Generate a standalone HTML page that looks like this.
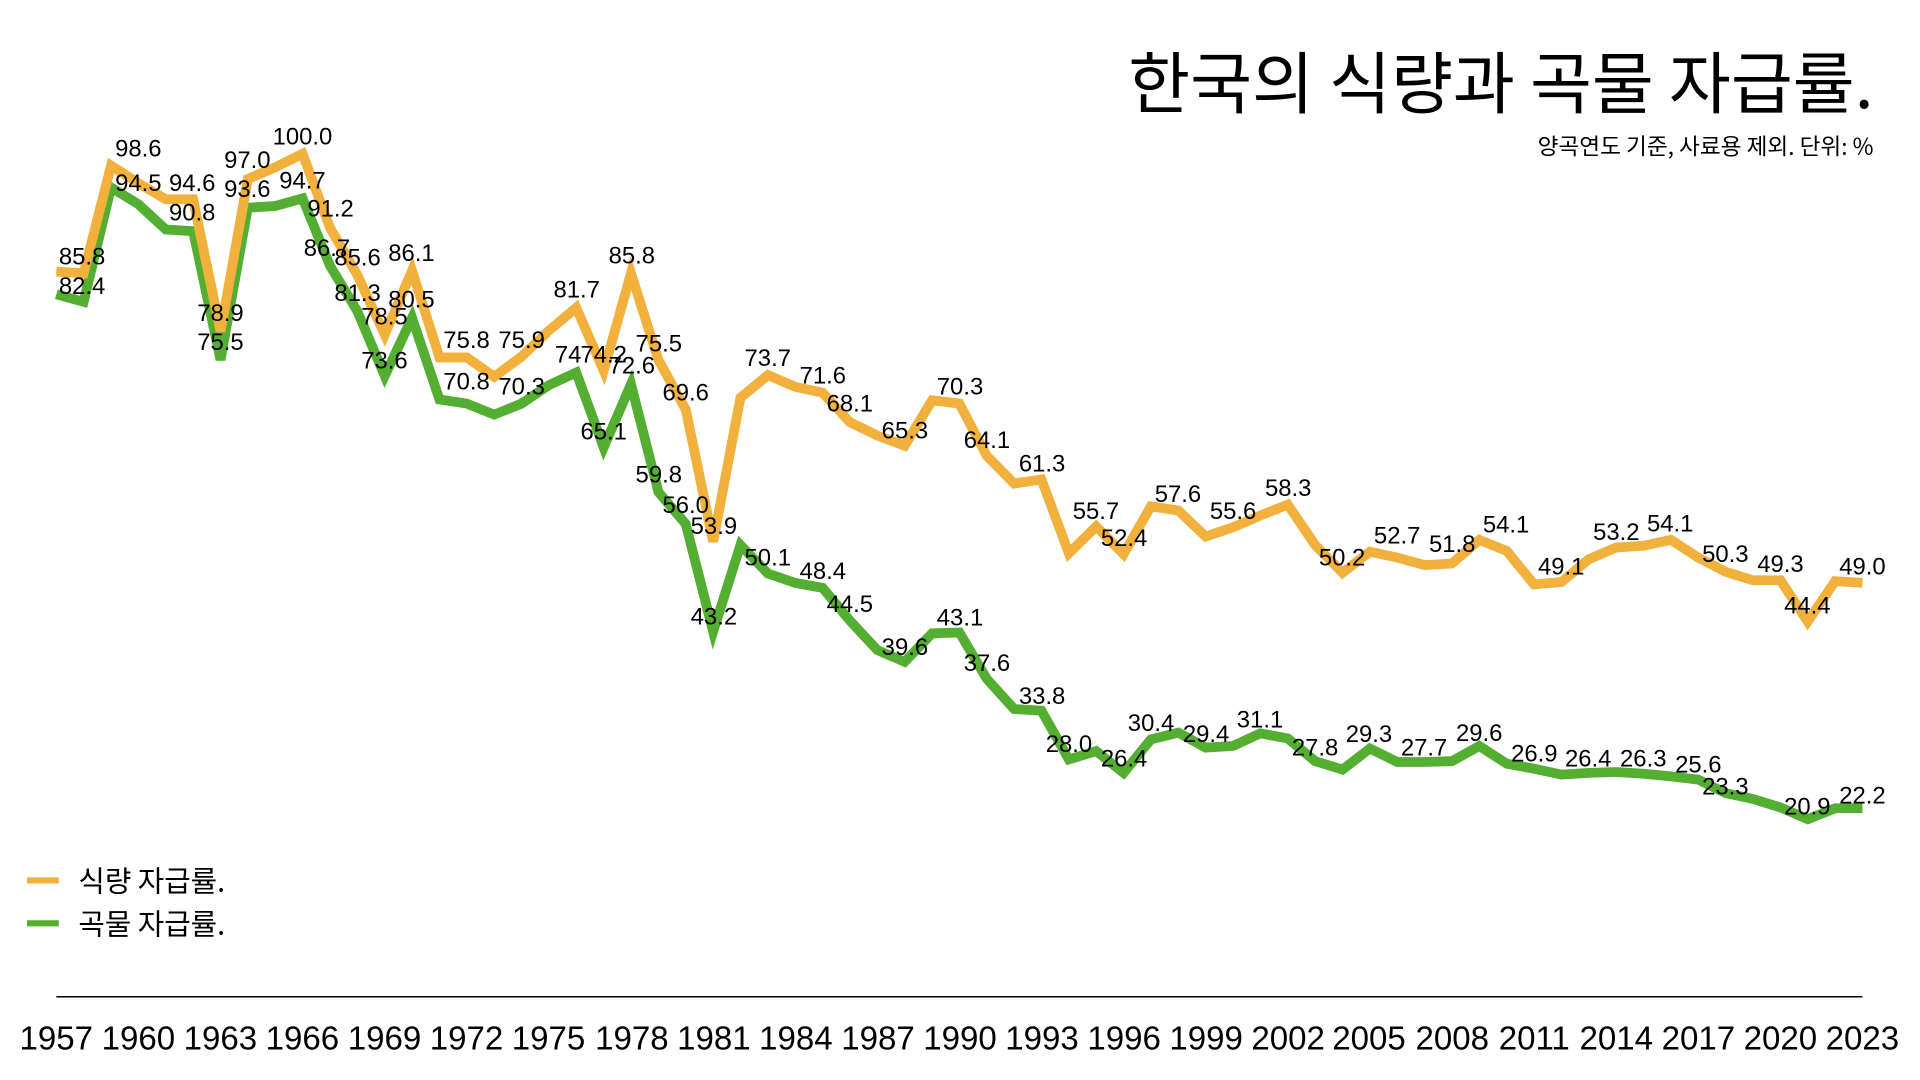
<!DOCTYPE html>
<html><head><meta charset="utf-8"><style>
html,body{margin:0;padding:0;background:#fff;}
svg{display:block;}
text{font-family:"Liberation Sans","Noto Sans CJK KR",sans-serif;fill:#000;}
.l{font-size:19.5px;text-anchor:middle;}
.y{font-size:27px;text-anchor:middle;}
</style></head><body>
<svg id="s" width="1920" height="1080" viewBox="0 0 1568 882" preserveAspectRatio="none">
<text x="1530" y="88" style="font-size:55px;font-weight:400;text-anchor:end;font-family:'Noto Sans CJK KR',sans-serif">한국의 식량과 곡물 자급률.</text>
<text x="1530" y="126" style="font-size:18.5px;text-anchor:end;font-family:'Noto Sans CJK KR',sans-serif">양곡연도 기준, 사료용 제외. 단위: %</text>
<g id="lines"></g>
<line x1="22" y1="719" x2="48" y2="719" stroke="#F2B13C" stroke-width="5"/>
<line x1="22" y1="754" x2="48" y2="754" stroke="#54AE32" stroke-width="5"/>
<text x="64" y="728" style="font-size:23.5px;font-family:'Noto Sans CJK KR',sans-serif">식량 자급률.</text>
<text x="64" y="763" style="font-size:23.5px;font-family:'Noto Sans CJK KR',sans-serif">곡물 자급률.</text>
<line x1="46" y1="814" x2="1521" y2="814" stroke="#000" stroke-width="1.2"/>
<g class="l">
<text x="67" y="216">85.8</text><text x="67" y="240">82.4</text>
<text x="113" y="128">98.6</text><text x="113" y="156">94.5</text>
<text x="157" y="156">94.6</text><text x="157" y="180">90.8</text>
<text x="180" y="262">78.9</text><text x="180" y="286">75.5</text>
<text x="202" y="137">97.0</text><text x="202" y="161">93.6</text>
<text x="247" y="118">100.0</text><text x="247" y="154">94.7</text>
<text x="270" y="177">91.2</text><text x="267" y="209">86.7</text>
<text x="292" y="217">85.6</text><text x="292" y="246">81.3</text>
<text x="314" y="265">78.5</text><text x="314" y="301">73.6</text>
<text x="336" y="213">86.1</text><text x="336" y="251">80.5</text>
<text x="381" y="284">75.8</text><text x="381" y="318">70.8</text>
<text x="426" y="284">75.9</text><text x="426" y="322">70.3</text>
<text x="471" y="243">81.7</text><text x="464" y="296">74</text>
<text x="493" y="296">74.2</text><text x="516" y="305">72.6</text>
<text x="493" y="359">65.1</text><text x="516" y="215">85.8</text>
<text x="538" y="287">75.5</text><text x="560" y="327">69.6</text>
<text x="538" y="394">59.8</text><text x="560" y="419">56.0</text>
<text x="583" y="436">53.9</text><text x="583" y="510">43.2</text>
<text x="627" y="299">73.7</text><text x="627" y="462">50.1</text>
<text x="672" y="313">71.6</text><text x="672" y="473">48.4</text>
<text x="694" y="336">68.1</text><text x="694" y="500">44.5</text>
<text x="739" y="358">65.3</text><text x="739" y="535">39.6</text>
<text x="784" y="322">70.3</text><text x="784" y="511">43.1</text>
<text x="806" y="366">64.1</text><text x="806" y="548">37.6</text>
<text x="851" y="385">61.3</text><text x="851" y="575">33.8</text>
<text x="895" y="424">55.7</text><text x="918" y="446">52.4</text>
<text x="873" y="614">28.0</text><text x="918" y="626">26.4</text>
<text x="962" y="410">57.6</text><text x="940" y="597">30.4</text>
<text x="1007" y="424">55.6</text><text x="985" y="606">29.4</text>
<text x="1052" y="405">58.3</text><text x="1029" y="594">31.1</text>
<text x="1096" y="462">50.2</text><text x="1074" y="617">27.8</text>
<text x="1141" y="444">52.7</text><text x="1118" y="606">29.3</text>
<text x="1186" y="451">51.8</text><text x="1163" y="617">27.7</text>
<text x="1230" y="435">54.1</text><text x="1208" y="605">29.6</text>
<text x="1275" y="469">49.1</text><text x="1253" y="622">26.9</text>
<text x="1320" y="441">53.2</text><text x="1297" y="626">26.4</text>
<text x="1364" y="434">54.1</text><text x="1342" y="626">26.3</text>
<text x="1409" y="459">50.3</text><text x="1387" y="631">25.6</text>
<text x="1454" y="467">49.3</text><text x="1409" y="649">23.3</text>
<text x="1476" y="501">44.4</text><text x="1476" y="665">20.9</text>
<text x="1521" y="469">49.0</text><text x="1521" y="656">22.2</text>
</g>
<g class="y">
<text x="46" y="857">1957</text><text x="113" y="857">1960</text><text x="180" y="857">1963</text><text x="247" y="857">1966</text><text x="314" y="857">1969</text><text x="381" y="857">1972</text><text x="448" y="857">1975</text><text x="516" y="857">1978</text><text x="583" y="857">1981</text><text x="650" y="857">1984</text><text x="717" y="857">1987</text><text x="784" y="857">1990</text><text x="851" y="857">1993</text><text x="918" y="857">1996</text><text x="985" y="857">1999</text><text x="1052" y="857">2002</text><text x="1118" y="857">2005</text><text x="1186" y="857">2008</text><text x="1253" y="857">2011</text><text x="1320" y="857">2014</text><text x="1387" y="857">2017</text><text x="1454" y="857">2020</text><text x="1521" y="857">2023</text>
</g>
</svg>
<script>
var food=[86,85.8,98.6,96.5,94.6,94.6,78.9,97.0,98.4,100,91.2,85.6,78.5,86.1,75.8,75.8,73.5,75.9,79,81.7,74.2,85.8,75.5,69.6,53.9,71,73.7,72.3,71.6,68.1,66.5,65.3,70.7,70.3,64.1,60.8,61.3,52.5,55.7,52.4,58.1,57.6,54.5,55.6,57,58.3,53.5,50.2,52.7,52,51.1,51.3,54.1,52.8,48.8,49.1,51.8,53.2,53.4,54.1,52,50.3,49.3,49.3,44.4,49.2,49.0];
var grain=[83.3,82.4,96,94,91,90.8,75.5,93.6,93.8,94.7,86.7,81.3,73.6,80.5,70.8,70.3,69,70.3,72.5,74,65.1,72.6,59.8,56.0,43.2,53.5,50.1,49,48.4,44.5,41,39.6,43,43.1,37.6,34,33.8,28.0,29,26.4,30.4,31.2,29.4,29.6,31.1,30.5,27.8,26.8,29.3,27.7,27.7,27.8,29.6,27.5,26.9,26.2,26.4,26.5,26.3,26,25.6,24,23.3,22.3,20.9,22.2,22.2];
function pts(a){return a.map(function(v,i){return (46+i*1475/66).toFixed(1)+","+(812.6-6.87*v).toFixed(1)}).join(" ");}
document.getElementById("lines").innerHTML=
'<polyline points="'+pts(grain)+'" fill="none" stroke="#54AE32" stroke-width="8" stroke-linejoin="miter"/>'+
'<polyline points="'+pts(food)+'" fill="none" stroke="#F2B13C" stroke-width="8" stroke-linejoin="miter"/>';
</script>
</body></html>
